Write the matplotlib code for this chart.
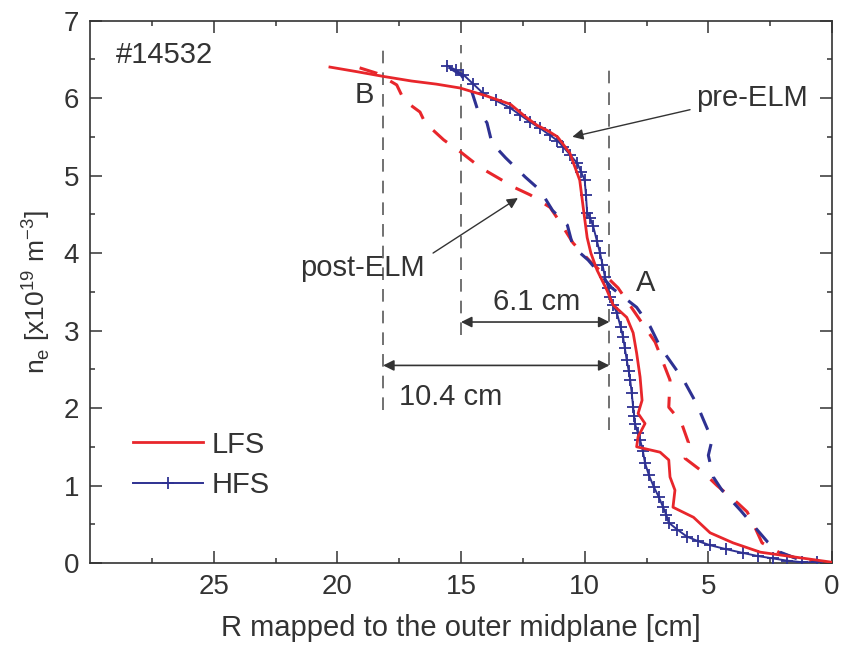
import numpy as np
import matplotlib.pyplot as plt

plt.rcParams['font.family'] = ['Liberation Sans', 'DejaVu Sans']
plt.rcParams['mathtext.fontset'] = 'custom'
plt.rcParams['mathtext.rm'] = 'Liberation Sans'

# density profiles, R in cm, ne in 1e19 m^-3
# pre-ELM, low field side
lfs_r = [20.3, 19.2, 18.15, 17.0, 16.0, 15.04, 14.0, 13.0, 12.4, 11.93, 11.5, 11.1,
         10.6, 10.2, 10.06, 9.9, 9.75, 9.5, 9.1, 8.85, 8.3, 8.04, 7.9, 7.76, 7.68,
         7.84, 7.56, 7.84, 7.9, 6.95, 6.6, 6.55, 6.35, 6.43, 5.6, 4.93, 4.0, 2.9,
         1.57, 0.0]
lfs_ne = [6.40, 6.34, 6.28, 6.22, 6.18, 6.13, 6.03, 5.92, 5.76, 5.65, 5.58, 5.50,
          5.29, 4.94, 4.59, 4.20, 4.00, 3.78, 3.52, 3.33, 3.17, 2.97, 2.71, 2.40, 2.10,
          1.93, 1.80, 1.63, 1.50, 1.43, 1.33, 1.11, 0.94, 0.72, 0.59, 0.39, 0.26, 0.14,
          0.08, 0.01]

# pre-ELM, high field side
hfs_r = [15.56, 15.2, 14.9, 14.5, 14.1, 13.6, 13.0, 12.6, 12.2, 11.8, 11.4, 11.1,
         10.87, 10.6, 10.3, 10.15, 10.0, 9.95, 9.9, 9.78, 9.66, 9.5, 9.38, 9.28, 9.18,
         9.05, 8.97, 8.85, 8.7, 8.55, 8.45, 8.38, 8.3, 8.22, 8.16, 8.1, 8.04, 8.0,
         7.97, 7.85, 7.76, 7.65, 7.56, 7.4, 7.2, 7.0, 6.83, 6.7, 6.6, 6.25, 5.86,
         5.4, 4.93, 4.3, 3.6, 3.0, 2.4, 1.8, 1.2, 0.6]
hfs_ne = [6.42, 6.36, 6.30, 6.18, 6.06, 5.97, 5.87, 5.78, 5.69, 5.61, 5.52, 5.45,
          5.37, 5.27, 5.16, 5.05, 4.94, 4.75, 4.52, 4.45, 4.35, 4.15, 4.00, 3.85, 3.69,
          3.55, 3.43, 3.33, 3.23, 3.05, 2.92, 2.78, 2.62, 2.48, 2.36, 2.20, 2.01, 1.90,
          1.80, 1.68, 1.59, 1.45, 1.29, 1.13, 0.98, 0.85, 0.72, 0.62, 0.52, 0.43, 0.34,
          0.28, 0.23, 0.18, 0.13, 0.09, 0.06, 0.03, 0.01, 0.01]

# post-ELM, low field side
lfs_post_r = [19.1, 18.4, 17.6, 17.3, 16.66, 16.45, 15.7, 15.0, 14.2, 13.5, 12.8,
              12.2, 11.4, 11.0, 10.47, 9.8, 9.1, 8.65, 7.9, 7.15, 6.55, 6.6, 6.1,
              5.8, 5.94, 5.2, 4.65, 3.8, 3.43, 3.1, 2.83, 2.1, 1.4, 0.6]
lfs_post_ne = [6.39, 6.32, 6.17, 5.97, 5.82, 5.68, 5.46, 5.30, 5.10, 4.97, 4.84,
               4.75, 4.59, 4.40, 4.13, 3.90, 3.69, 3.55, 3.20, 2.85, 2.36, 2.01, 1.82,
               1.55, 1.35, 1.17, 1.00, 0.77, 0.66, 0.45, 0.26, 0.13, 0.06, 0.01]

# post-ELM, high field side
hfs_post_r = [15.5, 15.0, 14.6, 14.35, 13.95, 13.75, 13.2, 12.4, 11.8, 11.3, 10.7,
              10.47, 9.86, 8.9, 7.9, 7.35, 6.95, 6.0, 5.45, 5.2, 4.85, 5.0, 4.8,
              4.45, 3.7, 3.3, 2.6, 2.1, 1.3, 0.5]
hfs_post_ne = [6.40, 6.30, 6.12, 5.87, 5.68, 5.42, 5.23, 4.98, 4.81, 4.55, 4.36,
               4.08, 3.91, 3.55, 3.30, 3.05, 2.79, 2.36, 2.04, 1.85, 1.59, 1.39, 1.11,
               0.94, 0.68, 0.53, 0.27, 0.14, 0.04, 0.01]

# vertical guides and their extents
guide_r = [18.15, 15.0, 9.0]
guide_lo = [1.97, 2.94, 1.72]
guide_hi = [6.68, 6.68, 6.43]

red = '#e8262b'
blue = '#2e3192'
txt = '#333333'
fs = 21

fig = plt.figure(figsize=(8.47, 6.45), dpi=100)
ax = fig.add_axes([0.1063, 0.1271, 0.876, 0.841])

for r, lo, hi in zip(guide_r, guide_lo, guide_hi):
    ax.plot([r, r], [lo, hi], color='#666666', lw=1.3, linestyle=(0, (7, 5)), zorder=1)

ax.plot(lfs_post_r, lfs_post_ne, color=red, lw=2.2, linestyle=(0, (6, 5)), zorder=2)
ax.plot(hfs_post_r, hfs_post_ne, color=blue, lw=2.2, linestyle=(0, (6, 5)), zorder=2)
hfs_line, = ax.plot(hfs_r, hfs_ne, color=blue, lw=1.4, marker='+', ms=8, mew=1.3,
                    label='HFS', zorder=3)
lfs_line, = ax.plot(lfs_r, lfs_ne, color=red, lw=2.0, label='LFS', zorder=4)

# distance arrows between the guides
arrow = dict(arrowstyle='<|-|>', color=txt, lw=1.2, mutation_scale=16, shrinkA=0, shrinkB=0)
ax.annotate('', xy=(9.0, 3.11), xytext=(15.0, 3.11), arrowprops=arrow)
ax.annotate('', xy=(9.0, 2.55), xytext=(18.15, 2.55), arrowprops=arrow)
ax.text(11.93, 3.37, '6.1 cm', fontsize=fs, color=txt, ha='center', va='center')
ax.text(15.44, 2.14, '10.4 cm', fontsize=fs, color=txt, ha='center', va='center')

# pointers to the two profile sets
pointer = dict(arrowstyle='-|>', color=txt, lw=1.0, mutation_scale=16, shrinkA=0, shrinkB=0)
ax.annotate('', xy=(10.5, 5.5), xytext=(5.74, 5.85), arrowprops=pointer)
ax.text(5.5, 6.0, 'pre-ELM', fontsize=fs, color=txt, ha='left', va='center')
ax.annotate('', xy=(12.7, 4.71), xytext=(16.13, 4.0), arrowprops=pointer)
ax.text(21.5, 3.81, 'post-ELM', fontsize=fs, color=txt, ha='left', va='center')

ax.text(7.55, 3.61, 'A', fontsize=fs, color=txt, ha='center', va='center')
ax.text(18.9, 6.04, 'B', fontsize=fs, color=txt, ha='center', va='center')
ax.text(26.97, 6.55, '#14532', fontsize=fs, color=txt, ha='center', va='center')

ax.set_xlim(30, 0)
ax.set_ylim(0, 7)
ax.set_xticks([25, 20, 15, 10, 5, 0])
ax.set_xticks(np.arange(27.5, 0, -5), minor=True)
ax.set_yticks(range(0, 8))
ax.set_yticks(np.arange(0.5, 7, 1), minor=True)
ax.tick_params(which='both', direction='in', top=True, right=True, colors=txt,
               labelsize=20, width=1.1)
ax.tick_params(which='major', length=8.5, pad=8)
ax.tick_params(which='minor', length=3.6)
for s in ax.spines.values():
    s.set_color(txt)
    s.set_linewidth(1.2)

ax.set_xlabel('R mapped to the outer midplane [cm]', fontsize=fs, color=txt, labelpad=10)
ax.set_ylabel(r'n$_\mathregular{e}$ [x10$^\mathregular{19}$ m$^\mathregular{-3}$]',
              fontsize=19, color=txt, labelpad=8)

leg = ax.legend(handles=[lfs_line, hfs_line], loc='upper left',
                bbox_to_anchor=(0.058, 0.244), borderpad=0, borderaxespad=0,
                frameon=False, fontsize=fs, handlelength=2.4, handletextpad=0.28,
                labelspacing=0.42, numpoints=1)
for t in leg.get_texts():
    t.set_color(txt)

plt.savefig('out.png', dpi=100)
